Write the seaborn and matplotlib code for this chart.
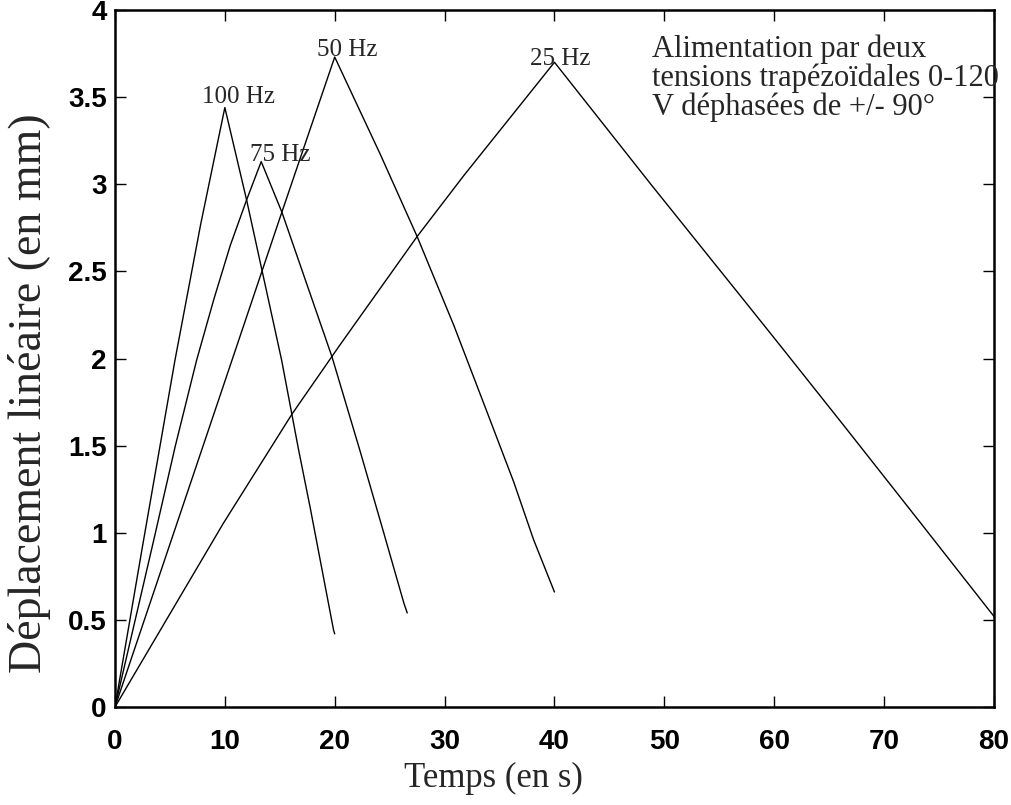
import numpy as np
import pandas as pd
import seaborn as sns
from matplotlib import pyplot as plt

# points (time in s, displacement in mm)
t_100 = [0, 2.5, 5.46, 7.8, 10.0, 11.98, 15.17, 16.7, 17.78, 19.9, 20.0]
d_100 = [0, 0.92, 1.99, 2.77, 3.44, 2.91, 1.99, 1.48, 1.14, 0.44, 0.42]

t_75 = [0, 3.5, 5.5, 7.43, 9.0, 10.5, 11.98, 13.31, 15.19, 19.75, 22.35, 24.46, 26.3, 26.6]
d_75 = [0, 0.95, 1.50, 1.99, 2.34, 2.65, 2.91, 3.13, 2.84, 2.01, 1.46, 1.0, 0.595, 0.54]

t_50 = [0, 9.42, 15.19, 20.0, 24.16, 27.5, 30.84, 33.88, 36.3, 38.1, 40.0]
d_50 = [0, 1.76, 2.84, 3.73, 3.17, 2.70, 2.19, 1.69, 1.29, 0.96, 0.66]

t_25 = [0, 9.87, 16.1, 20.5, 27.5, 31.75, 40.0, 48.77, 57.3, 60.6, 66.4, 73.4, 80.0]
d_25 = [0, 1.055, 1.68, 2.08, 2.70, 3.05, 3.70, 3.00, 2.33, 2.07, 1.61, 1.05, 0.52]

freqs = ['100 Hz', '75 Hz', '50 Hz', '25 Hz']
label_x = [11.2, 15.0, 21.1, 40.5]
label_y = [3.50, 3.17, 3.77, 3.72]

x_ticks = [0, 10, 20, 30, 40, 50, 60, 70, 80]
y_ticks = [0, 0.5, 1, 1.5, 2, 2.5, 3, 3.5, 4]
y_ticklabels = ['0', '0.5', '1', '1.5', '2', '2.5', '3', '3.5', '4']

note = 'Alimentation par deux\ntensions trapézoïdales 0-120\nV déphasées de +/- 90°'

frames = []
for f, t, d in zip(freqs, [t_100, t_75, t_50, t_25], [d_100, d_75, d_50, d_25]):
    frames.append(pd.DataFrame({'t': t, 'd': d, 'freq': f}))
df = pd.concat(frames, ignore_index=True)

sns.set_theme(style='ticks')
plt.rcParams['font.family'] = ['Liberation Sans', 'DejaVu Sans']

fig = plt.figure(figsize=(10.12, 8.05), dpi=100)
ax = fig.add_axes([0.1136, 0.1217, 0.8686, 0.8659])

sns.lineplot(data=df, x='t', y='d', units='freq', estimator=None, sort=False,
             color='black', linewidth=1.0, ax=ax)

serif = ['Liberation Serif', 'DejaVu Serif']
for f, xx, yy in zip(freqs, label_x, label_y):
    ax.text(xx, yy, f, ha='center', va='center', fontsize=18, family=serif)

ax.text(48.9, 3.86, note, ha='left', va='top', fontsize=22, family=serif,
        linespacing=0.98)

ax.set_xlim(0, 80)
ax.set_ylim(0, 4)
ax.set_xticks(x_ticks)
ax.set_yticks(y_ticks)
ax.set_xticklabels([str(v) for v in x_ticks], fontsize=20, fontweight='bold')
ax.set_yticklabels(y_ticklabels, fontsize=20, fontweight='bold')
ax.tick_params(direction='in', length=8, width=1, top=True, right=True,
               colors='black')
ax.tick_params(axis='x', pad=16)
ax.tick_params(axis='y', pad=6)
for s in ax.spines.values():
    s.set_linewidth(1.8)
    s.set_color('black')

ax.set_xlabel('Temps (en s)', fontsize=25, family=serif)
ax.set_ylabel('Déplacement linéaire (en mm)', fontsize=33, family=serif)
ax.xaxis.set_label_coords(0.43, -0.079)
ax.yaxis.set_label_coords(-0.073, 0.45)

fig.savefig('out.png', dpi=100)
